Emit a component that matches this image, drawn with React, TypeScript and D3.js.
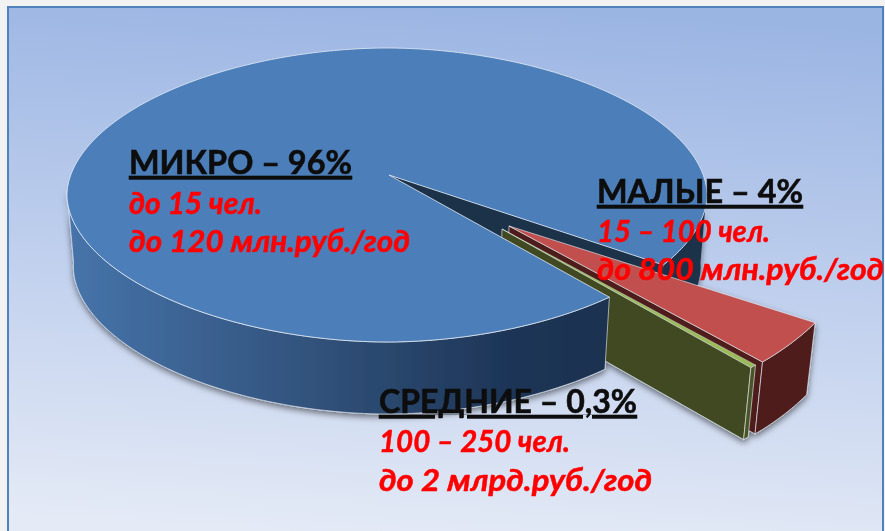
import React from 'react';
import * as d3 from 'd3';

const segmentNames = ['МИКРО', 'МАЛЫЕ', 'СРЕДНИЕ'];
const segmentShares = [96, 4, 0.3];
const shareLabels = ['96%', '4%', '0,3%'];
const staffLines = ['до 15 чел.', '15 – 100 чел.', '100 – 250 чел.'];
const revenueLines = ['до 120 млн.руб./год', 'до  800 млн.руб./год', 'до  2 млрд.руб./год'];

const WIDTH = 885;
const HEIGHT = 531;
const FONT = 'Lato, Carlito, "Open Sans", sans-serif';
const DEG = Math.PI / 180;

// 3D pie geometry, measured on the picture
const disc = { cx: 387, cy: 195, rx: 320, ry: 147, depth: 72, sink: 0.98, squeeze: 1.05 };
const microApex = { x: 389, y: 175 };
const explodedR = { rx: 352, ry: 196 };
const smallApex = { x: 509, y: 226 };
const mediumApex = { x: 502, y: 229 };

const labelSpots = [
  { x: 129, title: 174, titleW: 223, staff: 214, staffW: 133, revenue: 252, revenueW: 281 },
  { x: 597, title: 203, titleW: 206, staff: 242, staffW: 173, revenue: 280, revenueW: 287 },
  { x: 379, title: 413, titleW: 258, staff: 452, staffW: 191, revenue: 491, revenueW: 273 },
];

type Pt = [number, number];
const line = d3.line<Pt>();
const closed = (pts: Pt[]) => line(pts) + 'Z';

const soften = (v: number) => Math.sign(v) * Math.pow(Math.abs(v), disc.squeeze);
// the photographed disc is a little flatter than a true ellipse on the diagonals
const discRim = (a: number): Pt => [
  disc.cx + disc.rx * soften(Math.sin(a)),
  disc.cy - disc.ry * soften(Math.cos(a)),
];
const slicedRim = (a: number, apex: { x: number; y: number }): Pt => [
  apex.x + explodedR.rx * Math.sin(a),
  apex.y - explodedR.ry * Math.cos(a),
];
const below = ([x, y]: Pt): Pt => [disc.cx + (x - disc.cx) * disc.sink, y + disc.depth];
const sweep = (a0: number, a1: number, f: (a: number) => Pt) => {
  const n = Math.max(2, Math.ceil(Math.abs(a1 - a0) / (1 * DEG)));
  return d3.range(n + 1).map((i) => f(a0 + ((a1 - a0) * i) / n));
};
// wall hanging under a run of top points
const wall = (pts: Pt[]) => closed([...pts, ...pts.map(below).reverse()]);

const arcs = d3
  .pie<number>()
  .sort(null)
  .startAngle(135 * DEG)
  .endAngle(495 * DEG)(segmentShares);

export default function App() {
  const [micro, small, medium] = arcs;
  const microEnd = discRim(micro.endAngle);
  const mApex: Pt = [microApex.x, microApex.y];
  const sApex: Pt = [smallApex.x, smallApex.y];
  const gApex: Pt = [mediumApex.x, mediumApex.y];
  const smallArc = sweep(small.startAngle, small.endAngle, (a) => slicedRim(a, smallApex));
  const mediumArc = sweep(medium.startAngle, medium.endAngle, (a) => slicedRim(a, mediumApex));
  const edge = 'rgba(226,234,242,0.8)';

  return (
    <svg
      width={WIDTH}
      height={HEIGHT}
      viewBox={`0 0 ${WIDTH} ${HEIGHT}`}
      style={{ position: 'fixed', left: 0, top: 0, display: 'block' }}
    >
      <defs>
        <linearGradient id="bg" x1="0.55" y1="0" x2="0.45" y2="1">
          <stop offset="0" stopColor="#9bb5e3" />
          <stop offset="0.5" stopColor="#bfcfed" />
          <stop offset="1" stopColor="#e4eaf6" />
        </linearGradient>
        <linearGradient id="side" gradientUnits="userSpaceOnUse" x1="70" y1="0" x2="610" y2="0">
          <stop offset="0" stopColor="#4674aa" />
          <stop offset="0.5" stopColor="#2f4e76" />
          <stop offset="0.8" stopColor="#1e3658" />
          <stop offset="1" stopColor="#1c3150" />
        </linearGradient>
        <filter id="soft" x="-10%" y="-10%" width="120%" height="130%">
          <feDropShadow dx="0" dy="3" stdDeviation="3" floodColor="#000" floodOpacity="0.5" />
        </filter>
      </defs>

      <rect width={WIDTH} height={HEIGHT} fill="#f2f2f2" />
      <rect x={8} y={7} width={875} height={HEIGHT} fill="url(#bg)" stroke="#4f81bd" strokeWidth={2} />

      <g filter="url(#soft)">
        {/* back part of the micro slice, seen through the cut */}
        <path d={wall(sweep(88 * DEG, micro.endAngle - 360 * DEG, discRim))} fill="#1d3149" />
        <path d={wall([mApex, microEnd])} fill="#1d3149" />

        {/* small slice */}
        <path d={wall([sApex, smallArc[smallArc.length - 1]])} fill="#4f1f1e" stroke={edge} strokeWidth={0.8} />
        <path d={wall(smallArc)} fill="#4f1f1e" stroke={edge} strokeWidth={0.8} />
        <path d={closed([sApex, ...smallArc])} fill="#c0504d" stroke={edge} strokeWidth={0.8} />

        {/* medium slice */}
        <path d={wall([gApex, mediumArc[mediumArc.length - 1]])} fill="#3f4a20" stroke={edge} strokeWidth={0.8} />
        <path d={wall(mediumArc)} fill="#4a5526" stroke={edge} strokeWidth={0.8} />
        <path d={closed([gApex, ...mediumArc])} fill="#9bbb59" stroke={edge} strokeWidth={0.5} />

        {/* front wall of the micro slice */}
        <path d={wall(sweep(micro.startAngle, 272 * DEG, discRim))} fill="url(#side)" stroke={edge} strokeWidth={0.8} />
      </g>

      <path
        d={closed([mApex, ...sweep(micro.startAngle, micro.endAngle, discRim)])}
        fill="#4c7eb9"
        stroke={edge}
        strokeWidth={1}
      />

      {segmentNames.map((name, i) => {
        const spot = labelSpots[i];
        return (
          <g key={name} fontFamily={FONT} xmlSpace="preserve" style={{ whiteSpace: 'pre' }}>
            <text
              x={spot.x}
              y={spot.title}
              fontSize={33}
              fontWeight={700}
              fill="#0d0d0d"
              stroke="#0d0d0d"
              strokeWidth={0.6}
              textDecoration="underline"
              textLength={spot.titleW}
              lengthAdjust="spacingAndGlyphs"
            >
              {`${name} – ${shareLabels[i]}`}
            </text>
            <text
              x={spot.x}
              y={spot.staff}
              fontSize={31}
              fontWeight={700}
              fontStyle="italic"
              fill="#ff0000"
              stroke="#ff0000"
              strokeWidth={0.5}
              textLength={spot.staffW}
              lengthAdjust="spacingAndGlyphs"
            >
              {staffLines[i]}
            </text>
            <text
              x={spot.x}
              y={spot.revenue}
              fontSize={31}
              fontWeight={700}
              fontStyle="italic"
              fill="#ff0000"
              stroke="#ff0000"
              strokeWidth={0.5}
              textLength={spot.revenueW}
              lengthAdjust="spacingAndGlyphs"
            >
              {revenueLines[i]}
            </text>
          </g>
        );
      })}
    </svg>
  );
}
